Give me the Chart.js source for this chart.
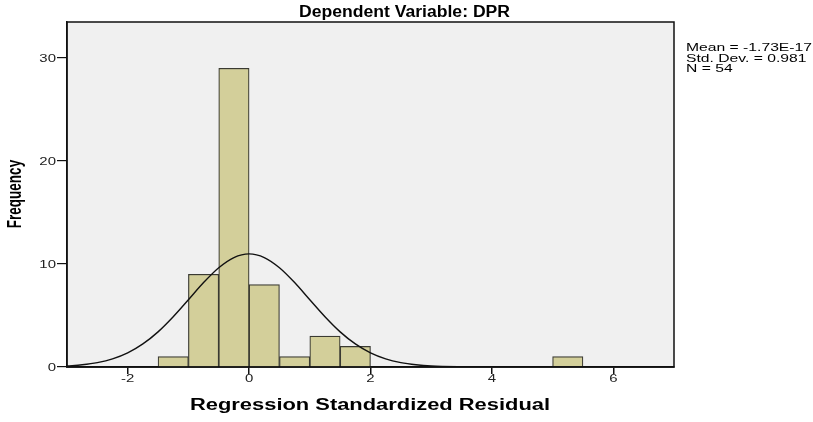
<!DOCTYPE html>
<html>
<head>
<meta charset="utf-8">
<script src="https://cdn.jsdelivr.net/npm/chart.js@4/dist/chart.umd.min.js"></script>
<style>
  body { margin: 0; background: #fff; }
  canvas { display: block; }
</style>
</head>
<body>
<canvas id="histChart" width="813" height="422"></canvas>
<script>
// Histogram bins (width 0.5) and their counts
const binCenters = [-1.25, -0.75, -0.25, 0.25, 0.75, 1.25, 1.75, 2.25, 2.75, 3.25, 3.75, 4.25, 4.75, 5.25];
const binCounts = [1, 9, 29, 8, 1, 3, 2, 0, 0, 0, 0, 0, 0, 1];

// Normal curve
const curveX = [-3, -2.75, -2.5, -2.25, -2, -1.75, -1.5, -1.25, -1, -0.75, -0.5, -0.25, 0,
                0.25, 0.5, 0.75, 1, 1.25, 1.5, 1.75, 2, 2.25, 2.5, 2.75, 3, 3.5, 4, 5, 6, 7];
const curveY = [0.10, 0.22, 0.43, 0.79, 1.37, 2.24, 3.41, 4.88, 6.53, 8.20, 9.64, 10.63, 10.98,
                10.63, 9.64, 8.20, 6.53, 4.88, 3.41, 2.24, 1.37, 0.79, 0.43, 0.22, 0.10, 0.02, 0, 0, 0, 0];

const xTicks = [-2, 0, 2, 4, 6];
const yTicks = [0, 10, 20, 30];

const statLines = ['Mean = -1.73E-17', 'Std. Dev. = 0.981', 'N = 54'];

// draw text squeezed/stretched horizontally so it fills a given width
function fitText(ctx, str, x, y, font, width, align) {
    ctx.save();
    ctx.font = font;
    const sx = width ? width / ctx.measureText(str).width : 1;
    ctx.translate(x, y);
    ctx.scale(sx, 1);
    ctx.textAlign = align || 'left';
    ctx.textBaseline = 'alphabetic';
    ctx.fillText(str, 0, 0);
    ctx.restore();
    return sx;
}

function stretchText(ctx, str, x, y, font, sx, align, baseline) {
    ctx.save();
    ctx.font = font;
    ctx.translate(x, y);
    ctx.scale(sx, 1);
    ctx.textAlign = align;
    ctx.textBaseline = baseline;
    ctx.fillText(str, 0, 0);
    ctx.restore();
}

const spssDecor = {
    id: 'spssDecor',
    beforeDraw(chart) {
        const { ctx, chartArea: a } = chart;
        ctx.save();
        ctx.fillStyle = '#f0f0f0';
        ctx.fillRect(a.left, a.top, a.right - a.left, a.bottom - a.top);
        ctx.restore();
    },
    afterDraw(chart) {
        const { ctx, chartArea: a, scales } = chart;
        ctx.save();

        // frame round the plot
        ctx.strokeStyle = '#111';
        ctx.lineWidth = 1.5;
        ctx.strokeRect(a.left, a.top, a.right - a.left, a.bottom - a.top);

        // tick labels
        ctx.fillStyle = '#222';
        const tickFont = '11.5px "Liberation Sans", Arial, sans-serif';
        yTicks.forEach(v => {
            stretchText(ctx, String(v), 56, scales.y.getPixelForValue(v) + 0.5, tickFont, 1.3, 'right', 'middle');
        });
        xTicks.forEach(v => {
            stretchText(ctx, String(v), scales.x.getPixelForValue(v), 379, tickFont, 1.3, 'center', 'middle');
        });

        // titles
        ctx.fillStyle = '#000';
        fitText(ctx, 'Dependent Variable: DPR', 299, 17, 'bold 16px "Liberation Sans", Arial, sans-serif', 211);
        fitText(ctx, 'Regression Standardized Residual', 190, 410, 'bold 16px "Liberation Sans", Arial, sans-serif', 360);

        ctx.save();
        ctx.font = 'bold 13.5px "Liberation Sans", Arial, sans-serif';
        ctx.translate(21, 194);
        ctx.scale(1.44, 1);
        ctx.rotate(-Math.PI / 2);
        ctx.textAlign = 'center';
        ctx.textBaseline = 'alphabetic';
        ctx.fillText('Frequency', 0, 0);
        ctx.restore();

        // stats box text
        const statFont = '11px "Liberation Sans", Arial, sans-serif';
        const sx = fitText(ctx, statLines[0], 686, 51, statFont, 126);
        stretchText(ctx, statLines[1], 686, 61.5, statFont, sx, 'left', 'alphabetic');
        stretchText(ctx, statLines[2], 686, 72, statFont, sx, 'left', 'alphabetic');

        ctx.restore();
    }
};

const ctx = document.getElementById('histChart').getContext('2d');

new Chart(ctx, {
    data: {
        datasets: [
            {
                type: 'line',
                data: curveX.map((x, i) => ({ x: x, y: curveY[i] })),
                borderColor: '#111',
                borderWidth: 1.4,
                pointRadius: 0,
                fill: false,
                cubicInterpolationMode: 'monotone',
                order: 0
            },
            {
                type: 'bar',
                data: binCenters.map((x, i) => ({ x: x, y: binCounts[i] })),
                backgroundColor: '#d3cf9a',
                borderColor: '#3a3a32',
                borderWidth: 1.2,
                borderSkipped: 'start',
                barPercentage: 1,
                categoryPercentage: 1,
                order: 1
            }
        ]
    },
    plugins: [spssDecor],
    options: {
        responsive: false,
        animation: false,
        devicePixelRatio: 1,
        layout: { padding: { left: 0, right: 139, top: 22, bottom: 0 } },
        plugins: {
            legend: { display: false },
            tooltip: { enabled: false },
            title: { display: false }
        },
        scales: {
            x: {
                type: 'linear',
                min: -3,
                max: 7,
                offset: false,
                afterBuildTicks: s => { s.ticks = xTicks.map(v => ({ value: v })); },
                afterFit: s => { s.height = 55; },
                ticks: { display: false },
                grid: {
                    display: true,
                    drawOnChartArea: false,
                    drawTicks: true,
                    tickLength: 7,
                    color: '#111',
                    lineWidth: 1.5,
                    offset: false
                },
                border: { display: true, color: '#111', width: 1.8 }
            },
            y: {
                type: 'linear',
                min: 0,
                max: 33.5,
                afterBuildTicks: s => { s.ticks = yTicks.map(v => ({ value: v })); },
                afterFit: s => { s.width = 67; },
                ticks: { display: false },
                grid: {
                    display: true,
                    drawOnChartArea: false,
                    drawTicks: true,
                    tickLength: 10,
                    color: '#111',
                    lineWidth: 1.2
                },
                border: { display: true, color: '#111', width: 1.5 }
            }
        }
    }
});
</script>
</body>
</html>
